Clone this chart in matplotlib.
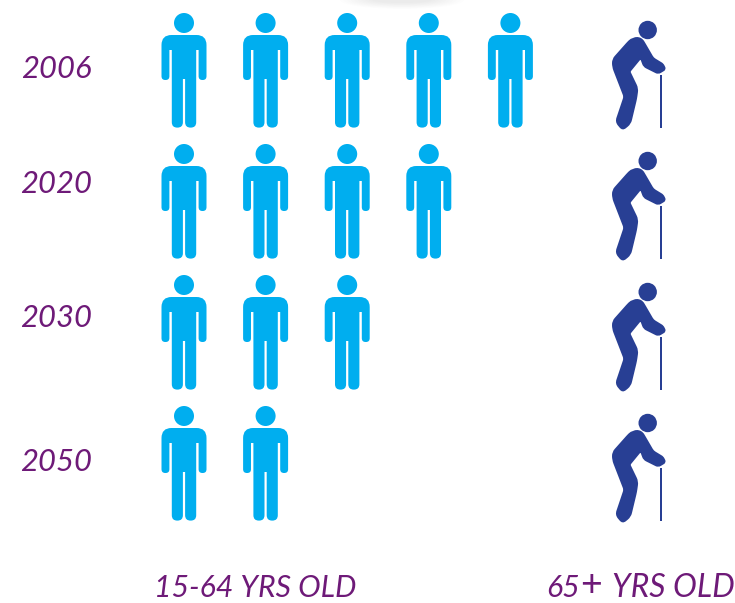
import matplotlib
matplotlib.use("Agg")
import matplotlib.pyplot as plt
from matplotlib.path import Path
from matplotlib.patches import PathPatch, Circle, Ellipse, Rectangle
from matplotlib.transforms import Affine2D
import numpy as np

years = ["2006", "2020", "2030", "2050"]
workers = [5, 4, 3, 2]
retirees = [1, 1, 1, 1]
group_labels = ["15-64 YRS OLD", "65", "YRS OLD"]

BLUE = "#00AEEF"
NAVY = "#283F94"
PURPLE = "#6E1A78"
FONT = "Lato"

W, H = 735, 603
fig = plt.figure(figsize=(W / 100, H / 100), dpi=100)
ax = fig.add_axes([0, 0, 1, 1])
ax.set_xlim(0, W)
ax.set_ylim(H, 0)
ax.axis("off")


def rounded(points):
    """Closed path from (x, y, corner radius) triples."""
    verts, codes = [], []
    n = len(points)
    for i, (x, y, r) in enumerate(points):
        p = np.array([x, y], float)
        a = np.array(points[i - 1][:2], float)
        b = np.array(points[(i + 1) % n][:2], float)
        if r <= 0:
            verts.append(p)
            codes.append(Path.LINETO)
            continue
        u = (a - p) / np.linalg.norm(a - p)
        v = (b - p) / np.linalg.norm(b - p)
        verts += [p + u * r, p, p + v * r]
        codes += [Path.LINETO, Path.CURVE3, Path.CURVE3]
    codes[0] = Path.MOVETO
    verts.append(verts[0])
    codes.append(Path.CLOSEPOLY)
    return Path(np.array(verts), codes)


# Pictogram outlines in local pixels, relative to the row's top
PERSON_BODY = rounded([
    (-22.5, 35, 10), (22.5, 35, 10), (22.5, 80, 3.8), (14.6, 80, 3.8),
    (14.6, 50, 0), (12.2, 50, 0), (12.2, 127.6, 5.4), (1.1, 127.6, 5.4),
    (1.1, 79, 0), (-1.1, 79, 0), (-1.1, 127.6, 5.4), (-12.2, 127.6, 5.4),
    (-12.2, 50, 0), (-14.6, 50, 0), (-14.6, 80, 3.8), (-22.5, 80, 3.8),
])
ELDER_BODY = rounded([
    (-10.5, 37.0, 5), (-1.3, 37.0, 5), (2.5, 43.3, 2), (10.8, 57.6, 2),
    (20.5, 63.5, 2), (23.5, 69.5, 3), (15.3, 74.5, 3), (0.3, 67, 3),
    (-2.5, 59.5, 1), (-12.5, 71.7, 1), (-4.5, 88.3, 4), (-6, 99, 3),
    (-12, 124, 4), (-20.5, 131, 4.5), (-28, 122, 4.5), (-19.5, 96.7, 2),
    (-31, 67, 4), (-31, 59, 4), (-15, 41, 3),
])


def person(cx, top, color):
    ax.add_patch(Circle((cx, top + 23), 10, fc=color, ec="none"))
    ax.add_patch(PathPatch(PERSON_BODY, transform=Affine2D().translate(cx, top) + ax.transData,
                           fc=color, ec="none"))


def elder(cx, top, color):
    ax.add_patch(Circle((cx + 4.7, top + 30), 9.2, fc=color, ec="none"))
    ax.add_patch(PathPatch(ELDER_BODY, transform=Affine2D().translate(cx, top) + ax.transData,
                           fc=color, ec="none"))
    ax.add_patch(Rectangle((cx + 16.7, top + 75), 2, 53, fc=color, ec="none"))


# Soft shadow at the top edge
for rx, ry in zip(np.linspace(62, 30, 10), np.linspace(9, 3, 10)):
    ax.add_patch(Ellipse((402, 0), 2 * rx, 2 * ry, fc="#000000", ec="none", alpha=0.008))

row_tops = [0, 131, 262, 393]
year_y = [69, 184, 318, 462]
person_x0, person_dx = 184, 81.6
elder_x = 643

for top, yy, label, nw, nr in zip(row_tops, year_y, years, workers, retirees):
    ax.text(56.5, yy, label, color=PURPLE, fontsize=22.3, style="italic", family=FONT,
            ha="center", va="center")
    for i in range(nw):
        person(person_x0 + i * person_dx, top, BLUE)
    for i in range(nr):
        elder(elder_x, top, NAVY)

base = dict(color=PURPLE, fontsize=21.8, style="italic", family=FONT, va="baseline")
ax.text(154, 597, group_labels[0], ha="left", **base)
ax.text(546, 597, group_labels[1], ha="left", **base)
ax.text(580, 596, "+", ha="left", color=PURPLE, fontsize=27, family=FONT, va="baseline")
ax.text(735, 597, group_labels[2], ha="right", **{**base, "fontsize": 23})

fig.savefig("out.png", dpi=100)
